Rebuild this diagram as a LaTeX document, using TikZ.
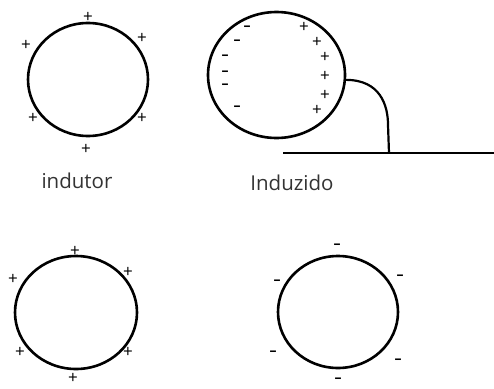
\documentclass[tikz,border=0pt]{standalone}
\usepackage{fontspec}
\setmainfont{Open Sans}
\usetikzlibrary{shapes.geometric}
\begin{document}
\begin{tikzpicture}[x=1pt,y=-1pt,
  ring/.style={draw,ellipse,line width=2.6pt,inner sep=0pt},
  plussign/.style={font=\fontsize{17}{17}\selectfont,inner sep=0pt},
  minussign/.style={font=\fontsize{14}{14}\selectfont\bfseries,inner sep=0pt},
  lbl/.style={font=\fontsize{20.5}{20.5}\selectfont,text=black!80,inner sep=0pt}]
\useasboundingbox (0,0) rectangle (494,388);
% circle 1
\node[ring,minimum width=120pt,minimum height=113pt] (c1) at (88,79.5) {};
\node[plussign] (p11) at (88,17) {+};
\node[plussign] (p12) at (26,45) {+};
\node[plussign] (p13) at (142,38) {+};
\node[plussign] (p14) at (33,118) {+};
\node[plussign] (p15) at (142,118) {+};
\node[plussign] (p16) at (86,149) {+};
\node[lbl] (t1) at (77,181) {indutor};
% circle 2
\node[ring,minimum width=137pt,minimum height=126pt] (c2) at (276.5,75) {};
\node[minussign] (m21) at (247,28) {–};
\node[minussign] (m22) at (237,42) {–};
\node[minussign] (m23) at (225,57) {–};
\node[minussign] (m24) at (225,73) {–};
\node[minussign] (m25) at (225,86) {–};
\node[minussign] (m26) at (237,108) {–};
\node[plussign] (p21) at (304,27) {+};
\node[plussign] (p22) at (317,42) {+};
\node[plussign] (p23) at (325,57) {+};
\node[plussign] (p24) at (325,76) {+};
\node[plussign] (p25) at (325,95) {+};
\node[plussign] (p26) at (317,110) {+};
\node[lbl] (t2) at (292,183) {Induzido};
\coordinate (g1) at (283,153);
\coordinate (g2) at (494,153);
\coordinate (gc) at (389,153);
\draw[line width=2.6pt] (g1) -- (g2);
\draw[line width=2.2pt] (c2.-4) .. controls (380,80) and (388,105) .. (388,125) -- (gc);
% circle 3
\node[ring,minimum width=122pt,minimum height=113pt] (c3) at (76,312.5) {};
\node[plussign] (p31) at (75,251) {+};
\node[plussign] (p32) at (128,272) {+};
\node[plussign] (p33) at (13,279) {+};
\node[plussign] (p34) at (20,352) {+};
\node[plussign] (p35) at (128,352) {+};
\node[plussign] (p36) at (73,378) {+};
\node[minussign] (m46) at (338,380) {–};
% circle 4
\node[ring,minimum width=120pt,minimum height=112pt] (c4) at (338,312) {};
\node[minussign] (m41) at (337,246) {–};
\node[minussign] (m42) at (400,277) {–};
\node[minussign] (m43) at (277,282) {–};
\node[minussign] (m44) at (273,353) {–};
\node[minussign] (m45) at (398,361) {–};
\end{tikzpicture}
\end{document}
